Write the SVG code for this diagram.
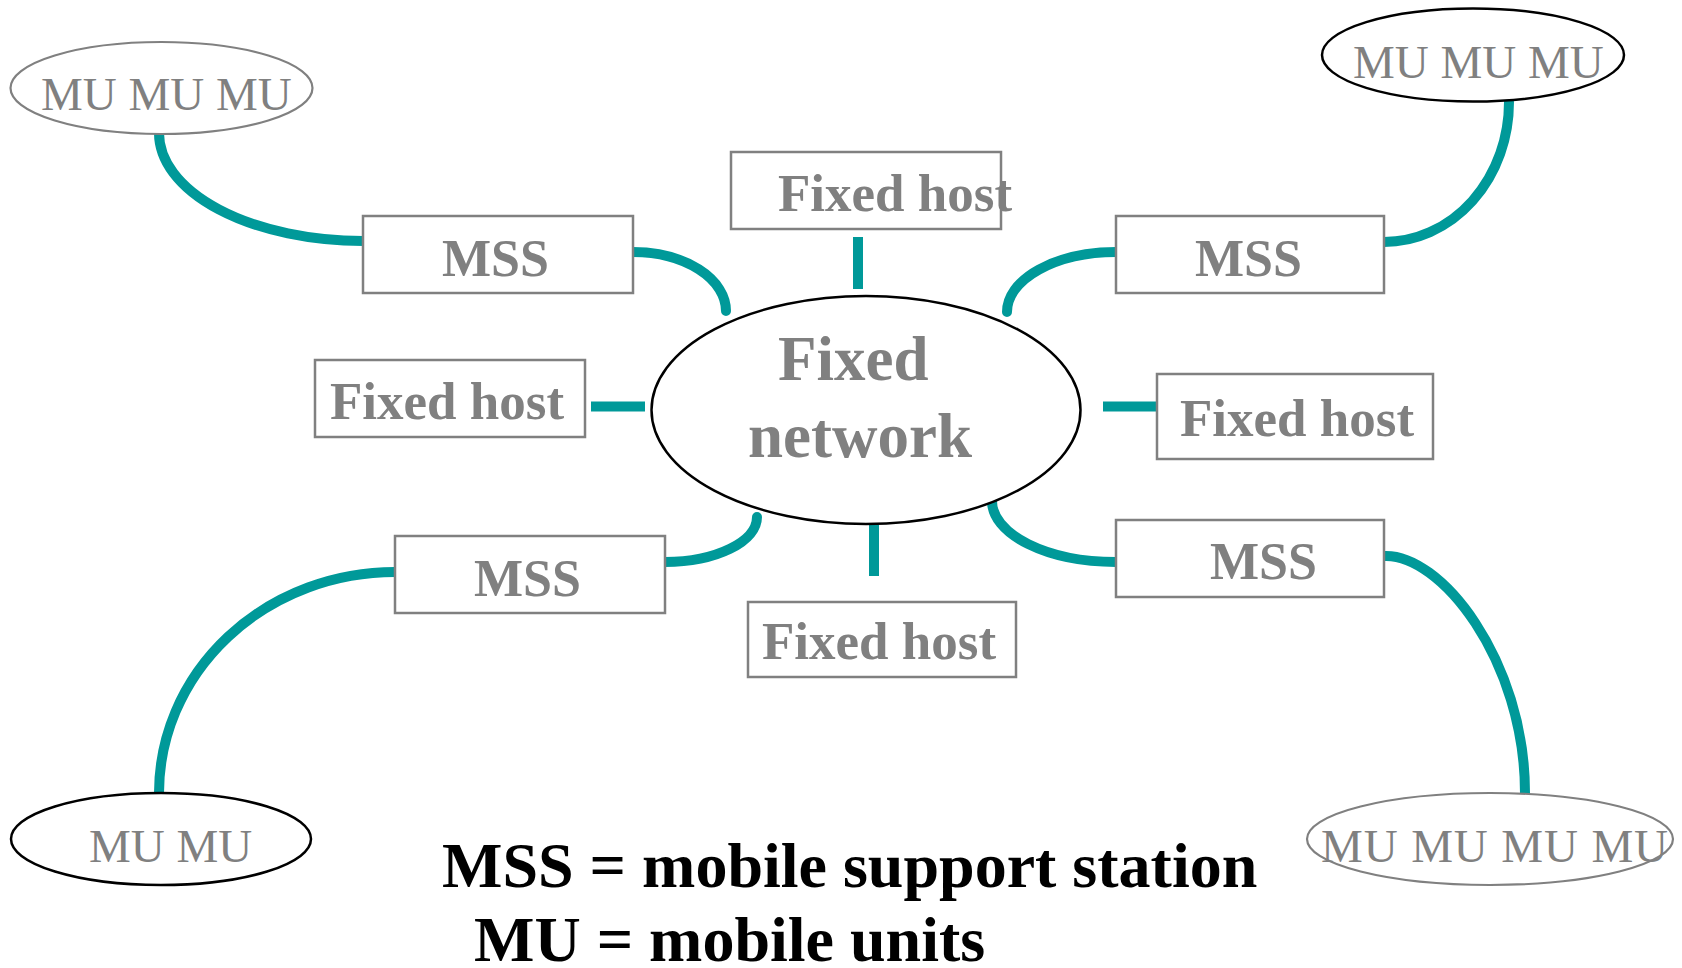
<svg xmlns="http://www.w3.org/2000/svg" width="1682" height="968" viewBox="0 0 1682 968">
<style>
.box{fill:#fff;stroke:#808080;stroke-width:2.5}
.eg{fill:#fff;stroke:#808080;stroke-width:2.2}
.ek{fill:#fff;stroke:#000;stroke-width:2.5}
.lbl{font-family:"Liberation Serif","Times New Roman",serif;font-weight:bold;fill:#808080}
.mu{font-family:"Liberation Serif","Times New Roman",serif;font-size:47px;fill:#808080}
.legend{font-family:"Liberation Serif","Times New Roman",serif;font-weight:bold;font-size:64px;fill:#000}
.c{fill:none;stroke:#009999;stroke-width:10;stroke-linecap:round}
.s{fill:none;stroke:#009999;stroke-width:10;stroke-linecap:butt}
</style>
<rect width="1682" height="968" fill="#fff"/>
<g id="connectors">
<path class="c" d="M159,133 A204,108 0 0 0 363,241"/>
<path class="c" d="M633,252 A93,59 0 0 1 726,311"/>
<path class="c" d="M1509,102 A125,140 0 0 1 1384,242"/>
<path class="c" d="M1116,252 A109,60 0 0 0 1007,312"/>
<path class="c" d="M757,517 A92,45 0 0 1 665,562"/>
<path class="c" d="M395,572 A236,221 0 0 0 159,793"/>
<path class="c" d="M992,501 A124,61 0 0 0 1116,562"/>
<path class="c" d="M1383,556 C1440,552 1525,660 1525,793"/>
<line class="s" x1="858" y1="237" x2="858" y2="289"/>
<line class="s" x1="591" y1="406.5" x2="645" y2="406.5"/>
<line class="s" x1="1103" y1="406.5" x2="1156" y2="406.5"/>
<line class="s" x1="874" y1="524" x2="874" y2="576"/>
</g>
<g id="mu-topleft">
<ellipse class="eg" cx="161.5" cy="88" rx="151" ry="46"/>
<text class="mu" x="41" y="110">MU MU MU</text>
</g>
<g id="mu-topright">
<ellipse class="ek" cx="1473" cy="55" rx="151" ry="46.5"/>
<text class="mu" x="1353" y="78">MU MU MU</text>
</g>
<g id="mu-bottomleft">
<ellipse class="ek" cx="161" cy="839" rx="150" ry="46"/>
<text class="mu" x="89" y="862">MU MU</text>
</g>
<g id="mu-bottomright">
<ellipse class="eg" cx="1490" cy="839" rx="183" ry="46"/>
<text class="mu" x="1321" y="862" textLength="347" lengthAdjust="spacing">MU MU MU MU</text>
</g>
<g id="fixed-network">
<ellipse class="ek" cx="866" cy="410" rx="214.5" ry="114"/>
<text class="lbl" x="778" y="380" font-size="63">Fixed</text>
<text class="lbl" x="748" y="457" font-size="63">network</text>
</g>
<g id="mss-topleft">
<rect class="box" x="363" y="216" width="270" height="77"/>
<text class="lbl" x="442" y="276" font-size="52">MSS</text>
</g>
<g id="mss-topright">
<rect class="box" x="1116" y="216" width="268" height="77"/>
<text class="lbl" x="1195" y="276" font-size="52">MSS</text>
</g>
<g id="mss-bottomleft">
<rect class="box" x="395" y="536" width="270" height="77"/>
<text class="lbl" x="474" y="596" font-size="52">MSS</text>
</g>
<g id="mss-bottomright">
<rect class="box" x="1116" y="520" width="268" height="77"/>
<text class="lbl" x="1210" y="579" font-size="52">MSS</text>
</g>
<g id="fh-top">
<rect class="box" x="731" y="152" width="270" height="77"/>
<text class="lbl" x="778" y="211" font-size="53">Fixed host</text>
</g>
<g id="fh-left">
<rect class="box" x="315" y="360" width="270" height="77"/>
<text class="lbl" x="330" y="419" font-size="53">Fixed host</text>
</g>
<g id="fh-right">
<rect class="box" x="1157" y="374" width="276" height="85"/>
<text class="lbl" x="1180" y="436" font-size="53">Fixed host</text>
</g>
<g id="fh-bottom">
<rect class="box" x="748" y="602" width="268" height="75"/>
<text class="lbl" x="762" y="659" font-size="53">Fixed host</text>
</g>
<g id="legend">
<text class="legend" x="442" y="887">MSS = mobile support station</text>
<text class="legend" x="474" y="961">MU = mobile units</text>
</g>
</svg>
